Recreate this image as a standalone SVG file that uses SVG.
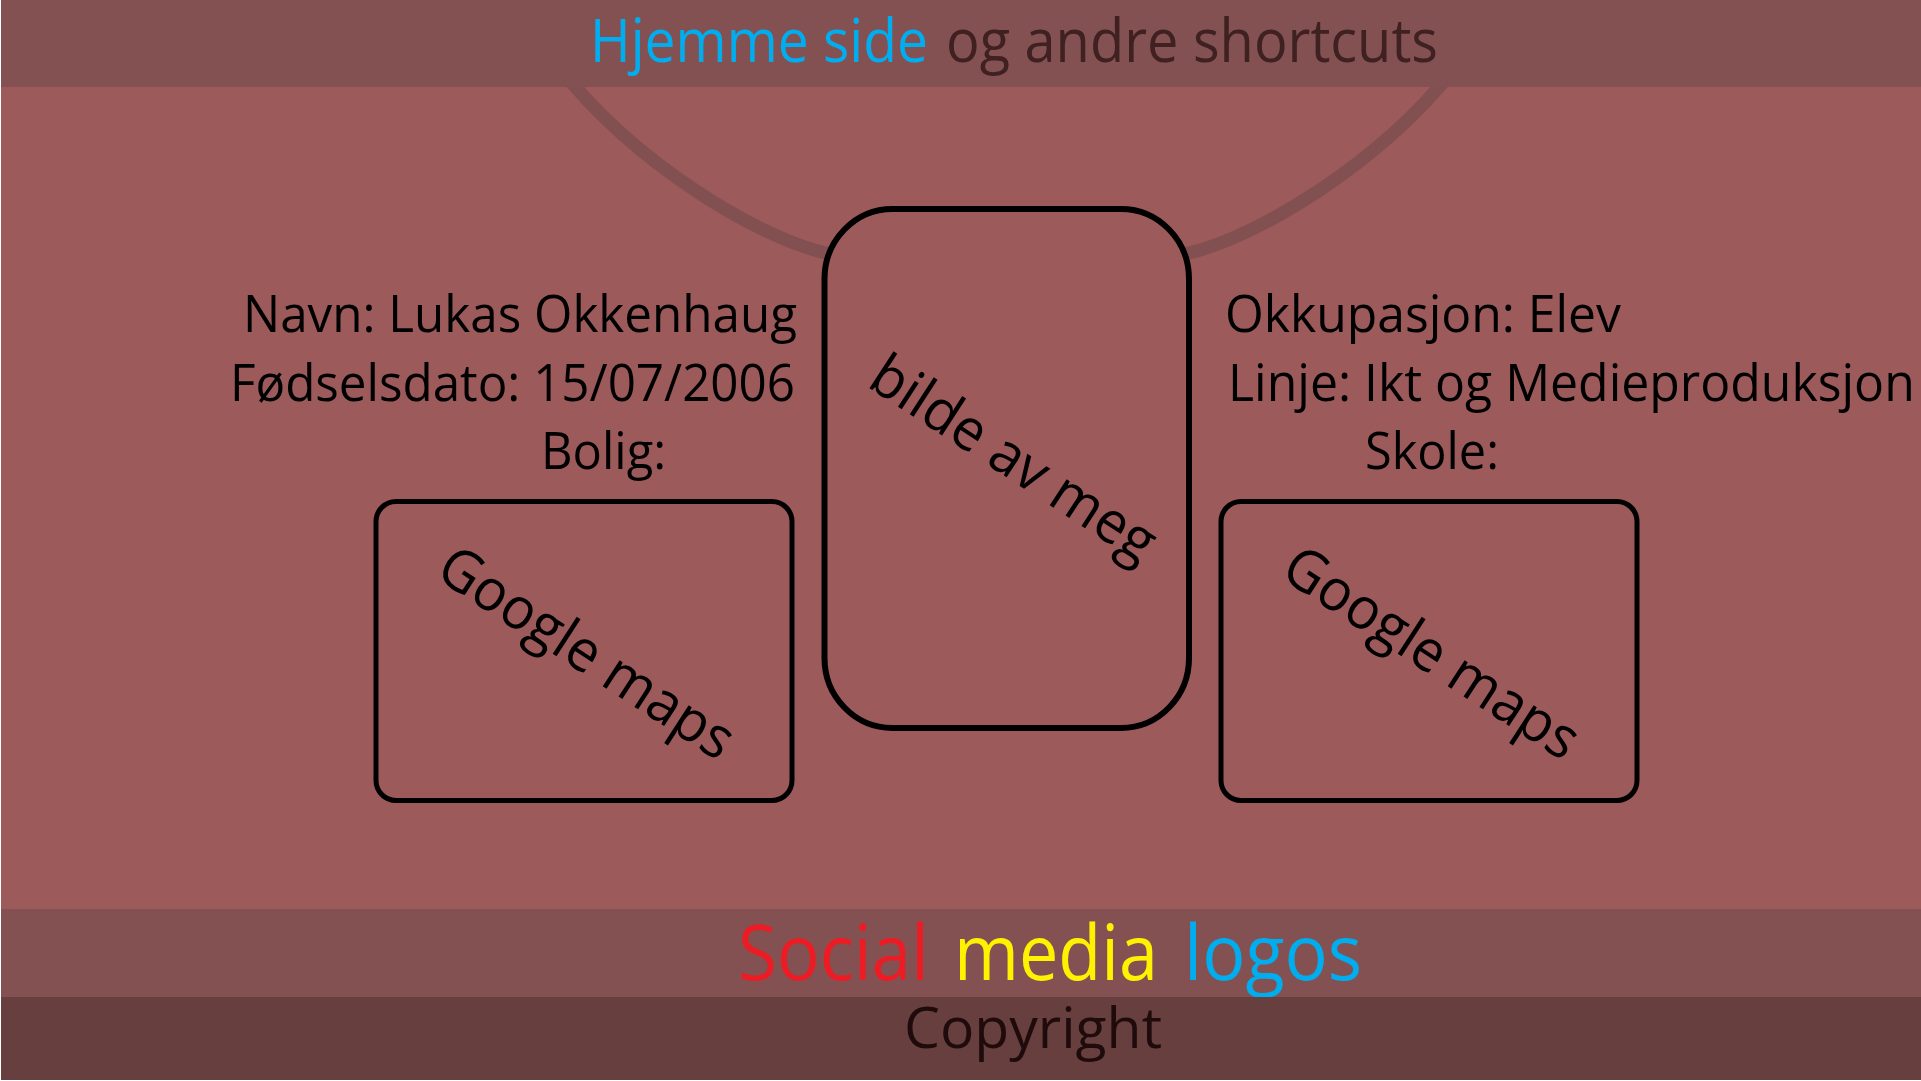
<svg xmlns="http://www.w3.org/2000/svg" width="1921" height="1081" viewBox="0 0 1921 1081">
  <style>
    .band-mid { fill: #845152; }
    .band-dark { fill: #673f3f; }
    .bg { fill: #9d5a5b; }
    .box { fill: #9d5a5b; stroke: #000000; }
    .conn { fill: none; stroke: #835051; stroke-width: 13; stroke-linecap: round; }
    .t { font-family: "Open Sans", "Noto Sans", "DejaVu Sans", sans-serif; }
    .body { font-size: 52px; fill: #000000; }
    .rot { font-size: 58px; fill: #000000; text-anchor: middle; }
  </style>
  <rect x="0" y="0" width="1921" height="1081" fill="#ffffff"/>
  <rect class="bg" x="1" y="0" width="1920" height="1080"/>

  <g id="connectors">
    <path class="conn" d="M 560,68 C 630,160 760,240 830,254"/>
    <path class="conn" d="M 1454.5,68 C 1384.5,160 1254.5,240 1184.5,254"/>
  </g>

  <g id="header">
    <rect class="band-mid" x="1" y="0" width="1920" height="87"/>
    <text class="t" x="590" y="62" font-size="61" fill="#00aeef" textLength="338" lengthAdjust="spacingAndGlyphs">Hjemme side</text>
    <text class="t" x="946" y="62" font-size="61" fill="#3f2121" textLength="492" lengthAdjust="spacingAndGlyphs">og andre shortcuts</text>
  </g>

  <g id="photo">
    <rect class="box" x="824.5" y="209" width="364.5" height="519" rx="68" ry="70" stroke-width="6"/>
    <text class="t rot" x="1003" y="475" transform="rotate(33 1003 475)" textLength="328" lengthAdjust="spacingAndGlyphs">bilde av meg</text>
  </g>

  <g id="info-left">
    <text class="t body" x="243" y="332" textLength="554" lengthAdjust="spacingAndGlyphs">Navn: Lukas Okkenhaug</text>
    <text class="t body" x="230" y="401" textLength="565" lengthAdjust="spacingAndGlyphs">Fødselsdato: 15/07/2006</text>
    <text class="t body" x="541" y="469" textLength="125" lengthAdjust="spacingAndGlyphs">Bolig:</text>
  </g>

  <g id="info-right">
    <text class="t body" x="1225" y="332" textLength="396" lengthAdjust="spacingAndGlyphs">Okkupasjon: Elev</text>
    <text class="t body" transform="translate(1228 401) scale(0.85 1)" x="0" y="0" textLength="808" lengthAdjust="spacingAndGlyphs">Linje: Ikt og Medieproduksjon</text>
    <text class="t body" x="1365" y="469" textLength="134" lengthAdjust="spacingAndGlyphs">Skole:</text>
  </g>

  <g id="map-home">
    <rect class="box" x="376" y="501.5" width="416" height="299" rx="20" ry="20" stroke-width="5"/>
    <text class="t rot" x="576" y="669" transform="rotate(33 576 669)" textLength="340" lengthAdjust="spacingAndGlyphs">Google maps</text>
  </g>

  <g id="map-school">
    <rect class="box" x="1221" y="501.5" width="416" height="299" rx="20" ry="20" stroke-width="5"/>
    <text class="t rot" x="1421" y="669" transform="rotate(33 1421 669)" textLength="340" lengthAdjust="spacingAndGlyphs">Google maps</text>
  </g>

  <g id="social">
    <rect class="band-mid" x="1" y="909" width="1920" height="88"/>
    <text class="t" x="738" y="980" font-size="76" fill="#ed1c24" textLength="191" lengthAdjust="spacingAndGlyphs">Social</text>
    <text class="t" x="954" y="980" font-size="76" fill="#fff200" textLength="204" lengthAdjust="spacingAndGlyphs">media</text>
    <text class="t" x="1184" y="980" font-size="76" fill="#00aeef" textLength="178" lengthAdjust="spacingAndGlyphs">logos</text>
  </g>

  <g id="footer">
    <rect class="band-dark" x="1" y="997" width="1920" height="83"/>
    <text class="t" x="904" y="1048" font-size="56" fill="#1f0b0b" textLength="258" lengthAdjust="spacingAndGlyphs">Copyright</text>
  </g>
</svg>
